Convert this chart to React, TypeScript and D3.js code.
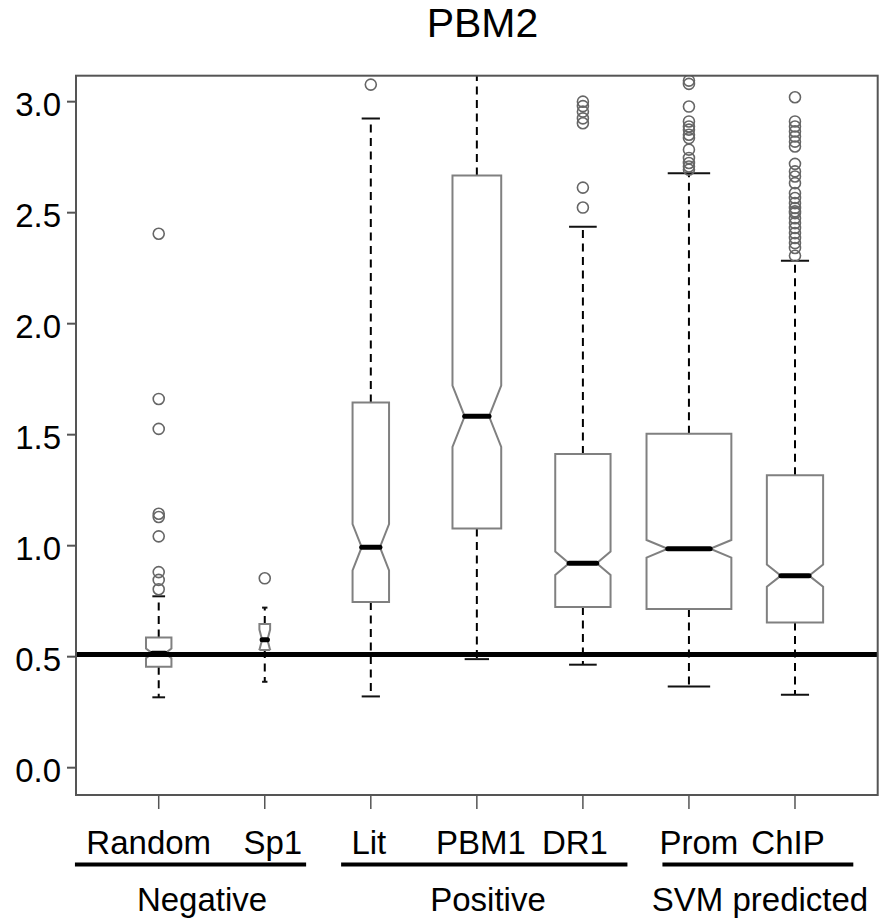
import React from 'react';
import * as d3 from 'd3';

// data
const categories = ['Random', 'Sp1', 'Lit', 'PBM1', 'DR1', 'Prom', 'ChIP'];
const groupNames = ['Negative', 'Positive', 'SVM predicted'];

const whiskerLow = [0.317, 0.387, 0.321, 0.489, 0.464, 0.366, 0.329];
const q1 = [0.455, 0.53, 0.746, 1.077, 0.724, 0.715, 0.654];
const median = [0.515, 0.576, 0.993, 1.583, 0.921, 0.986, 0.865];
const q3 = [0.586, 0.647, 1.645, 2.667, 1.413, 1.504, 1.317];
const whiskerHigh = [0.772, 0.721, 2.924, 3.35, 2.437, 2.678, 2.284];
const sampleSize = [90, 16, 185, 330, 425, 1000, 440];

const outliers = [
  [2.405, 1.661, 1.526, 1.144, 1.129, 1.042, 0.881, 0.846, 0.804],
  [0.853],
  [3.077],
  [],
  [3.0, 2.98, 2.955, 2.925, 2.903, 2.613, 2.523],
  [3.095, 3.08, 2.978, 2.911, 2.888, 2.874, 2.851, 2.836, 2.784, 2.746, 2.724, 2.708, 2.694],
  [3.02, 2.911, 2.888, 2.866, 2.843, 2.82, 2.798, 2.72, 2.686, 2.663, 2.633, 2.588, 2.566, 2.543,
    2.521, 2.506, 2.498, 2.475, 2.453, 2.431, 2.408, 2.386, 2.363, 2.341, 2.306],
];

const yTicks = [0, 0.5, 1, 1.5, 2, 2.5, 3];
const refLine = 0.51;

// layout
const W = 879;
const H = 921;
const plot = { left: 76, right: 877.7, top: 75.7, bottom: 795 };
const FONT = '"Liberation Sans", Arial, Helvetica, sans-serif';
const labelNudge = [-10, 8, -2, 4, -8, 10, -7];
const groupSpan = [[0.21, 2.39], [2.72, 5.42], [5.75, 7.55]];
const groupLabelX = [202, 488, 760];

const App = () => {
  const x = d3.scaleLinear().domain([0.22, 7.78]).range([plot.left, plot.right]);
  const y = d3.scaleLinear().domain([-0.123, 3.117]).range([plot.bottom, plot.top]);
  const step = x(2) - x(1);
  const maxN = d3.max(sampleSize) as number;
  // varwidth boxes: half width grows with sqrt(n)
  const halfW = d3.scaleSqrt().domain([0, maxN]).range([0, 0.4 * step]);
  const fmt = d3.format('.1f');
  const notchFrac = 0.5;

  return (
    <svg width={W} height={H} style={{ position: 'absolute', left: 0, top: 0, background: '#fff' }}
      fontFamily={FONT}>
      <defs>
        <clipPath id="plotclip">
          <rect x={plot.left} y={plot.top} width={plot.right - plot.left} height={plot.bottom - plot.top} />
        </clipPath>
      </defs>

      <text x={482.5} y={37.3} fontSize={41} textAnchor="middle" fill="#000">PBM2</text>

      <g clipPath="url(#plotclip)">
        {categories.map((c, i) => {
          const cx = x(i + 1);
          const w = halfW(sampleSize[i]);
          // notch = median +/- 1.58 IQR / sqrt(n)
          const nd = (1.58 * (q3[i] - q1[i])) / Math.sqrt(sampleSize[i]);
          const lo = median[i] - nd;
          const hi = median[i] + nd;
          const xs = [-1, 1, 1, notchFrac, 1, 1, -1, -1, -notchFrac, -1];
          const ys = [q1[i], q1[i], lo, median[i], hi, q3[i], q3[i], hi, median[i], lo];
          const pts = xs.map((k, j) => `${cx + k * w},${y(ys[j])}`).join(' ');
          const cap = w * 0.5;
          return (
            <g key={c}>
              <line x1={cx} x2={cx} y1={y(q1[i])} y2={y(whiskerLow[i])} stroke="#000" strokeWidth={2}
                strokeDasharray="8,5.5" />
              <line x1={cx} x2={cx} y1={y(q3[i])} y2={y(whiskerHigh[i])} stroke="#000" strokeWidth={2}
                strokeDasharray="8,5.5" />
              <line x1={cx - cap} x2={cx + cap} y1={y(whiskerLow[i])} y2={y(whiskerLow[i])} stroke="#111"
                strokeWidth={2} />
              <line x1={cx - cap} x2={cx + cap} y1={y(whiskerHigh[i])} y2={y(whiskerHigh[i])} stroke="#111"
                strokeWidth={2} />
              <polygon points={pts} fill="#fff" stroke="#808080" strokeWidth={2} />
              <line x1={cx - w * notchFrac} x2={cx + w * notchFrac} y1={y(median[i])} y2={y(median[i])}
                stroke="#000" strokeWidth={5} strokeLinecap="round" />
              {outliers[i].map((v, j) => (
                <circle key={j} cx={cx} cy={y(v)} r={5.5} fill="none" stroke="#666" strokeWidth={1.6} />
              ))}
            </g>
          );
        })}
        <line x1={plot.left} x2={plot.right} y1={y(refLine)} y2={y(refLine)} stroke="#000" strokeWidth={5} />
      </g>

      <rect x={plot.left} y={plot.top} width={plot.right - plot.left} height={plot.bottom - plot.top}
        fill="none" stroke="#555" strokeWidth={2} />

      {yTicks.map((t) => (
        <g key={t}>
          <line x1={plot.left - 9} x2={plot.left} y1={y(t)} y2={y(t)} stroke="#555" strokeWidth={2} />
          <text x={61} y={y(t) + 14} fontSize={33} textAnchor="end" fill="#000">{fmt(t)}</text>
        </g>
      ))}

      {categories.map((c, i) => (
        <g key={c}>
          <line x1={x(i + 1)} x2={x(i + 1)} y1={plot.bottom} y2={plot.bottom + 14} stroke="#555" strokeWidth={1.5} />
          <text x={x(i + 1) + labelNudge[i]} y={854} fontSize={33} textAnchor="middle" fill="#000">{c}</text>
        </g>
      ))}

      {groupNames.map((g, k) => (
        <g key={g}>
          <line x1={x(groupSpan[k][0])} x2={x(groupSpan[k][1])} y1={864.5} y2={864.5} stroke="#000"
            strokeWidth={4} />
          <text x={groupLabelX[k]} y={911} fontSize={33} textAnchor="middle" fill="#000">
            {g}
          </text>
        </g>
      ))}
    </svg>
  );
};

export default App;
